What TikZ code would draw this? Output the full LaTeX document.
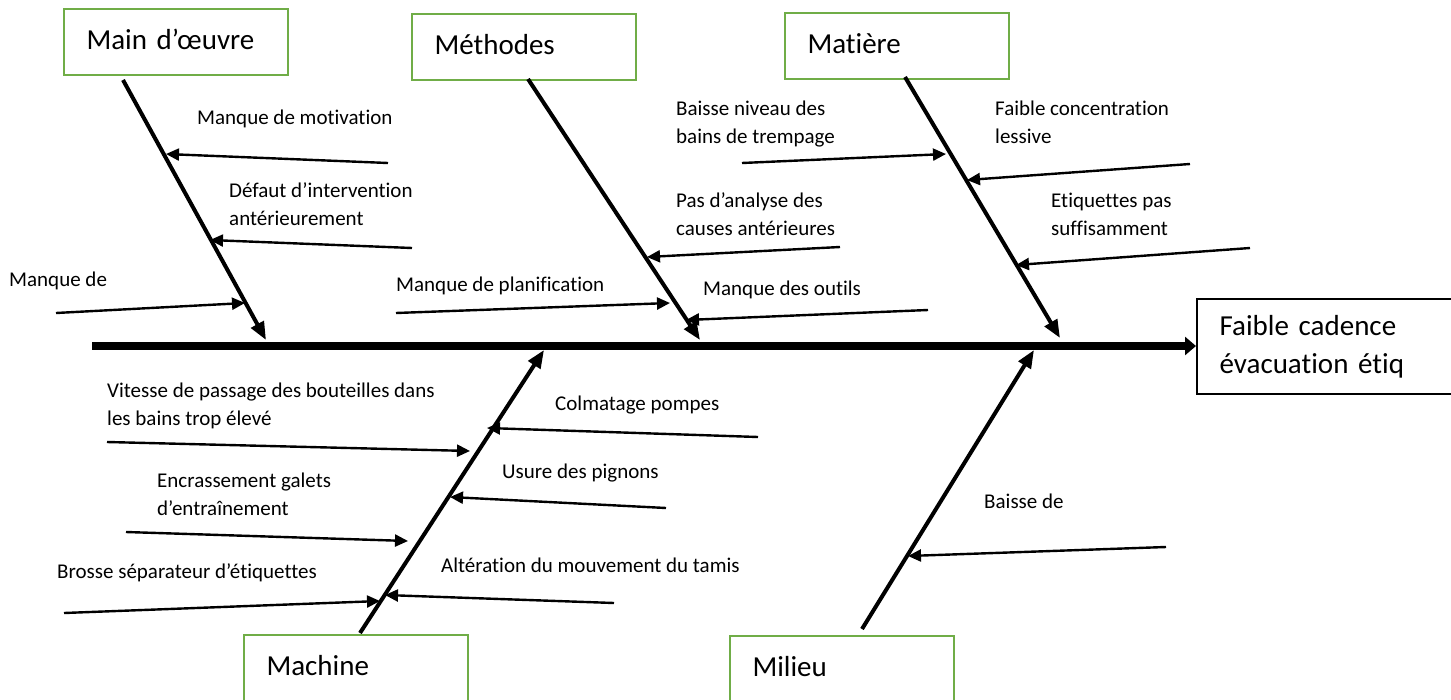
\documentclass[tikz,border=0pt]{standalone}
\usepackage{fontspec}
\setmainfont[Ligatures=NoCommon]{Carlito}
\usetikzlibrary{arrows.meta}
\definecolor{boxgreen}{RGB}{112,173,71}
\begin{document}
\begin{tikzpicture}[x=1pt,y=-1pt,
  catbox/.style={draw=boxgreen, line width=2pt, anchor=north west,
    minimum width=224pt, minimum height=66pt, text width=179pt,
    inner xsep=22.5pt, inner ysep=0pt, align=left,
    text height=14pt, text depth=0pt, font=\fontsize{29}{38}\selectfont},
  effbox/.style={draw=black, line width=2.2pt, anchor=north west,
    minimum width=290pt, minimum height=95pt, text width=245pt,
    inner xsep=22.5pt, align=left, font=\fontsize{29}{38}\selectfont},
  lbl/.style={anchor=base west, inner sep=0pt, align=left,
    font=\fontsize{21}{28}\selectfont},
  spine/.style={line width=8pt, -{Triangle[length=11pt,width=18pt]}},
  bone/.style={line width=4pt, -{Triangle[length=18pt,width=14pt]}},
  cause/.style={line width=2.4pt, -{Triangle[length=13pt,width=12pt]}},
]
\useasboundingbox (0,0) rectangle (1451,699);
\clip (0,0) rectangle (1451,699);

% effect and spine
\node[effbox] (eff) at (1196,298) {Faible cadence\\évacuation étiq};
\coordinate (s0) at (92,346);
\draw[spine] (s0) -- (s0 -| eff.west);

% category boxes
\node[catbox] (mo) at (63,8) {Main d’œuvre};
\node[catbox] (me) at (411,13) {Méthodes};
\node[catbox] (ma) at (784,12) {Matière};
\node[catbox] (mc) at (243,634) {Machine};
\node[catbox] (mi) at (729,635) {Milieu};

% bones
\coordinate (moS) at (123,80);  \coordinate (moE) at (266,340);
\coordinate (meS) at (528,79);  \coordinate (meE) at (700,340);
\coordinate (maS) at (905,77);  \coordinate (maE) at (1060,338);
\coordinate (mcS) at (360,633); \coordinate (mcE) at (544,350);
\coordinate (miS) at (862,629); \coordinate (miE) at (1034,350);
\draw[bone] (moS) -- (moE);
\draw[bone] (meS) -- (meE);
\draw[bone] (maS) -- (maE);
\draw[bone] (mcS) -- (mcE);
\draw[bone] (miS) -- (miE);

% causes: free ends and tips
\coordinate (aF) at (388,163);  \coordinate (aT) at (166,154);
\coordinate (bF) at (412,248);  \coordinate (bT) at (210,240);
\coordinate (cF) at (56,313);   \coordinate (cT) at (245,303);
\coordinate (dF) at (742,163);  \coordinate (dT) at (946,154);
\coordinate (eF) at (840,247);  \coordinate (eT) at (647,257);
\coordinate (fF) at (396,313);  \coordinate (fT) at (670,303);
\coordinate (gF) at (928,310);  \coordinate (gT) at (686,320);
\coordinate (hF) at (1190,164); \coordinate (hT) at (967,180);
\coordinate (iF) at (1250,248); \coordinate (iT) at (1016,265);
\coordinate (jF) at (107,442);  \coordinate (jT) at (470,451);
\coordinate (kF) at (126,532);  \coordinate (kT) at (408,541);
\coordinate (lF) at (64,613);   \coordinate (lT) at (380,601);
\coordinate (mF) at (758,437);  \coordinate (mT) at (487,428);
\coordinate (nF) at (666,508);  \coordinate (nT) at (450,497);
\coordinate (oF) at (614,603);  \coordinate (oT) at (385,595);
\coordinate (pF) at (1166,547); \coordinate (pT) at (908,556);
\foreach \c in {a,b,c,d,e,f,g,h,i,j,k,l,m,n,o,p}
  \draw[cause] (\c F) -- (\c T);

% labels (anchor at baseline of the last line)
\node[lbl] (la) at (197,124) {Manque de motivation};
\node[lbl] (lb) at (229,225) {Défaut d’intervention\\antérieurement};
\node[lbl] (lc) at (9,286) {Manque de};
\node[lbl] (ld) at (676,143) {Baisse niveau des\\bains de trempage};
\node[lbl] (le) at (676,235) {Pas d’analyse des\\causes antérieures};
\node[lbl] (lf) at (396,291) {Manque de planification};
\node[lbl] (lg) at (703,295) {Manque des outils};
\node[lbl] (lh) at (995,143) {Faible concentration\\lessive};
\node[lbl] (li) at (1051,235) {Etiquettes pas\\suffisamment};
\node[lbl] (lj) at (107,425) {Vitesse de passage des bouteilles dans\\les bains trop élevé};
\node[lbl] (lk) at (157,515) {Encrassement galets\\d’entraînement};
\node[lbl] (ll) at (57,578) {Brosse séparateur d’étiquettes};
\node[lbl] (lm) at (555,410) {Colmatage pompes};
\node[lbl] (ln) at (502,478) {Usure des pignons};
\node[lbl] (lo) at (441,572) {Altération du mouvement du tamis};
\node[lbl] (lp) at (984,508) {Baisse de};
\end{tikzpicture}
\end{document}
